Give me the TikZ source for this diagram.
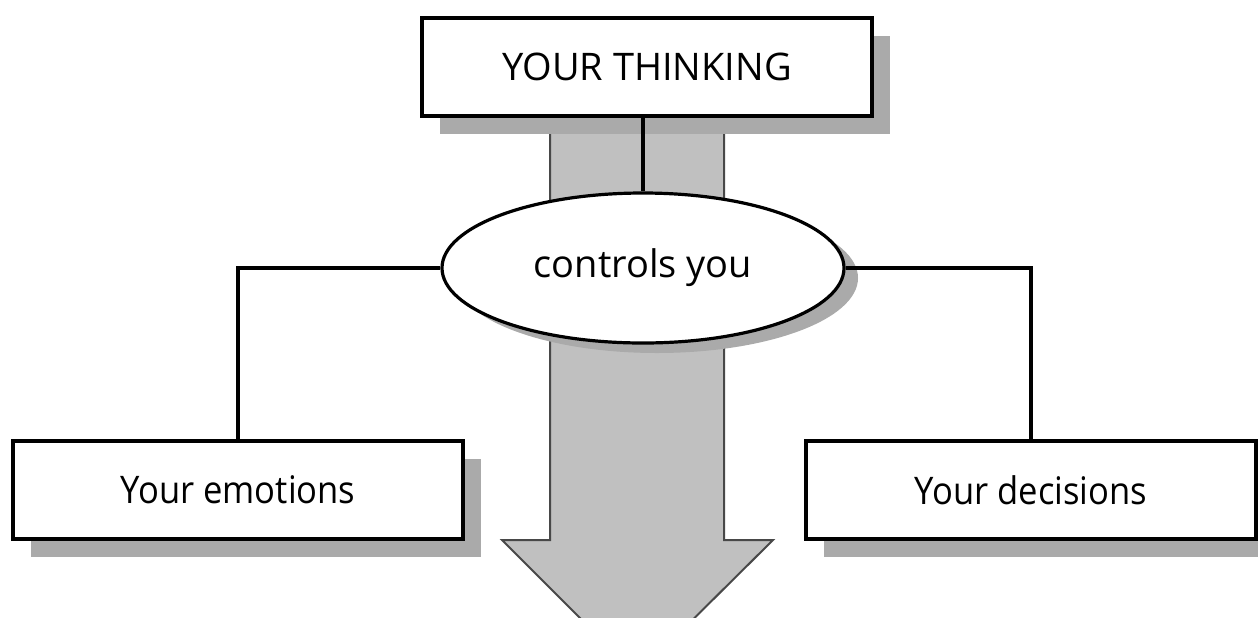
\documentclass[tikz,border=0pt]{standalone}
\usepackage{fontspec}
\setmainfont{Open Sans}
\newfontfamily\narrowfont[FakeStretch=0.91]{Open Sans}
\usetikzlibrary{shadows,shapes.geometric}
\definecolor{shaftgray}{HTML}{C0C0C0}
\definecolor{shadowgray}{HTML}{AAAAAA}
\definecolor{edgegray}{HTML}{484848}
\begin{document}
\begin{tikzpicture}[x=0.5pt,y=-0.5pt,
  box/.style={draw, line width=2pt, fill=white, rectangle, inner sep=0pt,
    minimum width=225pt, minimum height=49pt,
    general shadow={fill=shadowgray, shadow xshift=9pt, shadow yshift=-9pt},
    font=\fontsize{19}{22}\selectfont},
  lowbox/.style={box, font=\narrowfont\fontsize{19}{22}\selectfont},
  oval/.style={draw, line width=1.6pt, fill=white, ellipse, inner sep=0pt,
    minimum width=201pt, minimum height=75pt,
    general shadow={fill=shadowgray, shadow xshift=7pt, shadow yshift=-5pt},
    font=\fontsize{19}{22}\selectfont},
  conn/.style={draw, line width=1.6pt},
  shaft/.style={fill=shaftgray, draw=edgegray, line width=1pt}
]
\useasboundingbox (0,0) rectangle (1258,617);
\clip (0,0) rectangle (1258,617);
\fill[white] (0,0) rectangle (1258,617);
\draw[shaft] (550,110) -- (550,540) -- (502,540) -- (637,675) -- (773,540) -- (724,540) -- (724,110) -- cycle;
\node[box] (think) at (647,67) {YOUR THINKING};
\node[oval] (ctrl) at (643,268) {controls you};
\node[lowbox] (emo) at (238,490) {Your emotions};
\node[lowbox] (dec) at (1031,490) {Your decisions};
\draw[conn] (ctrl.north) -- (ctrl.north |- think.south);
\draw[conn] (ctrl.west) -| (emo.north);
\draw[conn] (ctrl.east) -| (dec.north);
\end{tikzpicture}
\end{document}
